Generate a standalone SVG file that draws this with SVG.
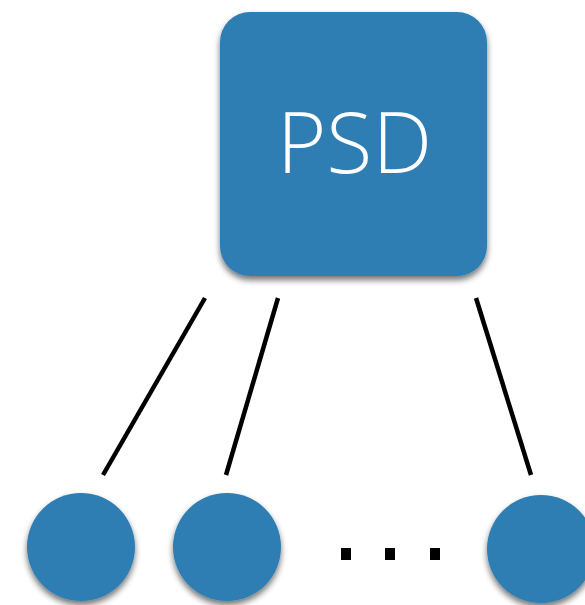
<svg xmlns="http://www.w3.org/2000/svg" width="585" height="605" viewBox="0 0 585 605">
  <defs>
    <filter id="shadow" x="-20%" y="-20%" width="140%" height="150%">
      <feGaussianBlur in="SourceAlpha" stdDeviation="3"/>
      <feOffset dx="0" dy="4" result="b"/>
      <feComponentTransfer><feFuncA type="linear" slope="0.55"/></feComponentTransfer>
      <feMerge><feMergeNode/><feMergeNode in="SourceGraphic"/></feMerge>
    </filter>
  </defs>
  <style>
    .fill { fill: #2f7db3; }
    .edge { stroke: #000; stroke-width: 4.5; fill: none; }
    .label { font-family: "Open Sans", "Lato", "Liberation Sans", sans-serif; font-weight: 300; font-size: 85px; fill: #fff; }
    .dot { fill: #000; }
  </style>
  <rect width="585" height="605" fill="#fff"/>

  <g id="connectors">
    <line class="edge" x1="205" y1="298" x2="103" y2="475"/>
    <line class="edge" x1="278" y1="298" x2="226" y2="475"/>
    <line class="edge" x1="476" y1="298" x2="531" y2="475"/>
  </g>

  <g id="psd">
    <rect class="fill" x="220" y="12" width="267" height="264" rx="30" ry="30" filter="url(#shadow)"/>
    <text class="label" x="354.5" y="173" text-anchor="middle" textLength="155" lengthAdjust="spacingAndGlyphs">PSD</text>
  </g>

  <g id="child-1">
    <circle class="fill" cx="81" cy="547" r="54" filter="url(#shadow)"/>
  </g>
  <g id="child-2">
    <circle class="fill" cx="227" cy="547" r="54" filter="url(#shadow)"/>
  </g>
  <g id="ellipsis">
    <rect class="dot" x="341" y="548" width="10" height="12"/>
    <rect class="dot" x="385" y="548" width="10" height="12"/>
    <rect class="dot" x="430" y="548" width="10" height="12"/>
  </g>
  <g id="child-n">
    <circle class="fill" cx="541" cy="549" r="54" filter="url(#shadow)"/>
  </g>
</svg>
